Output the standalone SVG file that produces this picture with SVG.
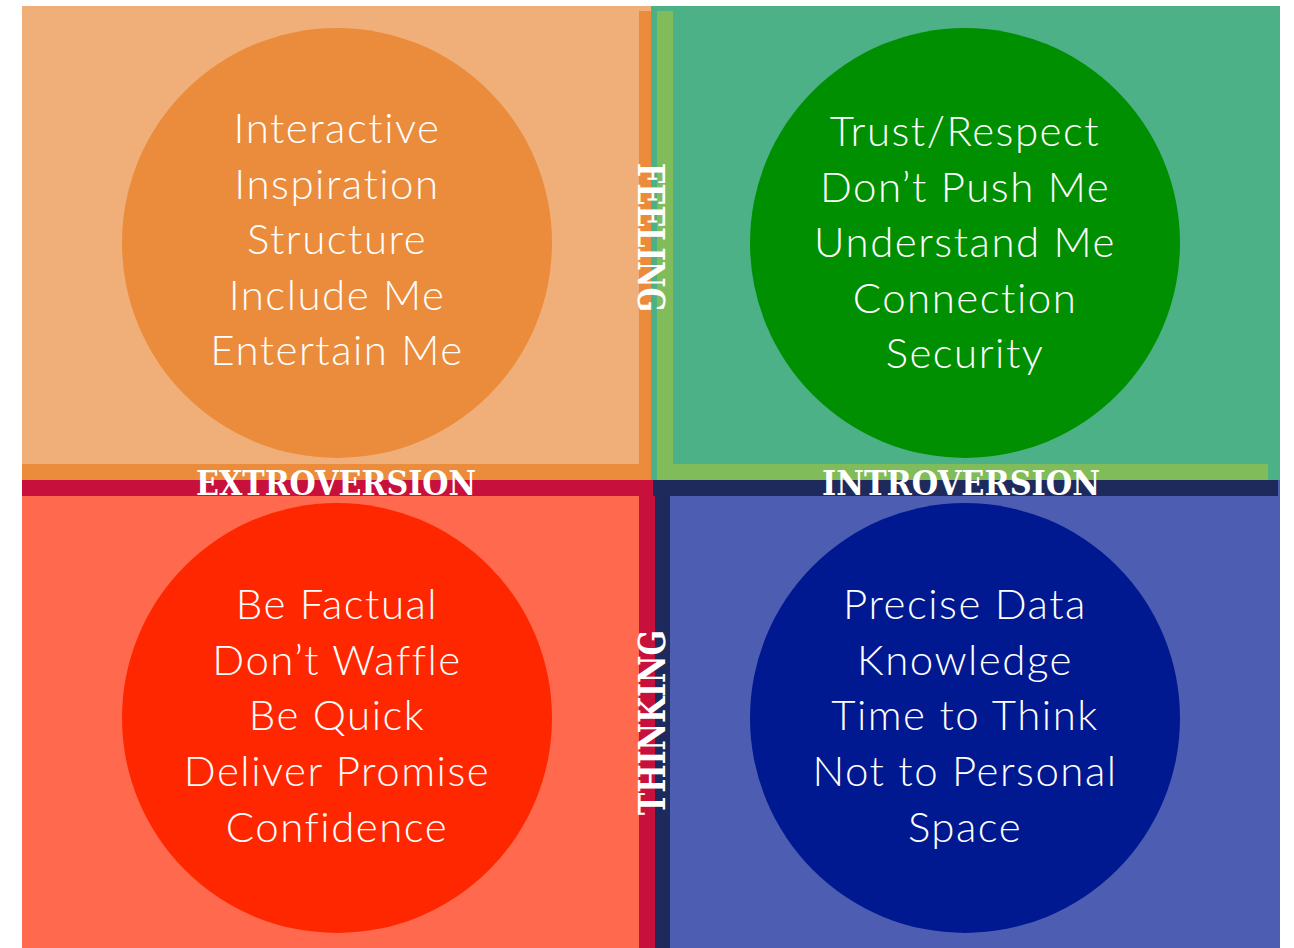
<svg xmlns="http://www.w3.org/2000/svg" width="1294" height="948" viewBox="0 0 1294 948">
  <style>
    .item { font-family: Lato, "Open Sans", "Liberation Sans", sans-serif; font-weight: 300; font-size: 42px; letter-spacing: 1.5px; fill: #ffffff; text-anchor: middle; }
    .axis { font-family: "DejaVu Serif", "Liberation Serif", serif; font-weight: bold; fill: #ffffff; text-anchor: middle; }
  </style>
  <rect width="1294" height="948" fill="#ffffff"/>

  <!-- quadrant backgrounds -->
  <g id="bg-feeling-extro">
    <rect x="22" y="6" width="630" height="474" fill="#F0AE78"/>
    <rect x="639" y="11" width="16" height="469" fill="#EA8C3C"/>
    <rect x="22" y="464" width="633" height="16" fill="#EA8C3C"/>
  </g>
  <g id="bg-feeling-intro">
    <rect x="651" y="6" width="629" height="474" fill="#4DB187"/>
    <rect x="657" y="11" width="16" height="469" fill="#80BC59"/>
    <rect x="657" y="464" width="611" height="16" fill="#80BC59"/>
  </g>
  <g id="bg-thinking-extro">
    <rect x="22" y="480" width="633" height="468" fill="#FF6A4E"/>
    <rect x="22" y="480" width="633" height="16" fill="#C8103C"/>
    <rect x="639" y="480" width="16" height="468" fill="#C8103C"/>
  </g>
  <g id="bg-thinking-intro">
    <rect x="655" y="480" width="625" height="468" fill="#4D5EB2"/>
    <rect x="653" y="480" width="625" height="16" fill="#1E2A5C"/>
    <rect x="655" y="480" width="15" height="468" fill="#1E2A5C"/>
  </g>

  <!-- circles with their lists -->
  <g id="node-extro-feeling">
    <circle cx="337" cy="243" r="215" fill="#EA8C3C"/>
    <text class="item" x="337" y="143">Interactive</text>
    <text class="item" x="337" y="198.5">Inspiration</text>
    <text class="item" x="337" y="254">Structure</text>
    <text class="item" x="337" y="309.5">Include Me</text>
    <text class="item" x="337" y="365">Entertain Me</text>
  </g>
  <g id="node-intro-feeling">
    <circle cx="965" cy="243" r="215" fill="#008F00"/>
    <text class="item" x="965" y="146">Trust/Respect</text>
    <text class="item" x="965" y="201.5">Don’t Push Me</text>
    <text class="item" x="965" y="257">Understand Me</text>
    <text class="item" x="965" y="312.5">Connection</text>
    <text class="item" x="965" y="368">Security</text>
  </g>
  <g id="node-extro-thinking">
    <circle cx="337" cy="718" r="215" fill="#FF2700"/>
    <text class="item" x="337" y="619">Be Factual</text>
    <text class="item" x="337" y="674.5">Don’t Waffle</text>
    <text class="item" x="337" y="730">Be Quick</text>
    <text class="item" x="337" y="786">Deliver Promise</text>
    <text class="item" x="337" y="842">Confidence</text>
  </g>
  <g id="node-intro-thinking">
    <circle cx="965" cy="718" r="215" fill="#001990"/>
    <text class="item" x="965" y="619">Precise Data</text>
    <text class="item" x="965" y="674.5">Knowledge</text>
    <text class="item" x="965" y="730">Time to Think</text>
    <text class="item" x="965" y="786">Not to Personal</text>
    <text class="item" x="965" y="842">Space</text>
  </g>

  <!-- axis labels -->
  <g id="axes">
    <text class="axis" x="336" y="495" font-size="34" textLength="280" lengthAdjust="spacingAndGlyphs">EXTROVERSION</text>
    <text class="axis" x="961" y="495" font-size="34" textLength="278" lengthAdjust="spacingAndGlyphs">INTROVERSION</text>
    <text class="axis" transform="translate(638,237.5) rotate(90)" font-size="37" textLength="149" lengthAdjust="spacingAndGlyphs">FEELING</text>
    <text class="axis" transform="translate(665,722.5) rotate(-90)" font-size="37" textLength="185" lengthAdjust="spacingAndGlyphs">THINKING</text>
  </g>
</svg>
